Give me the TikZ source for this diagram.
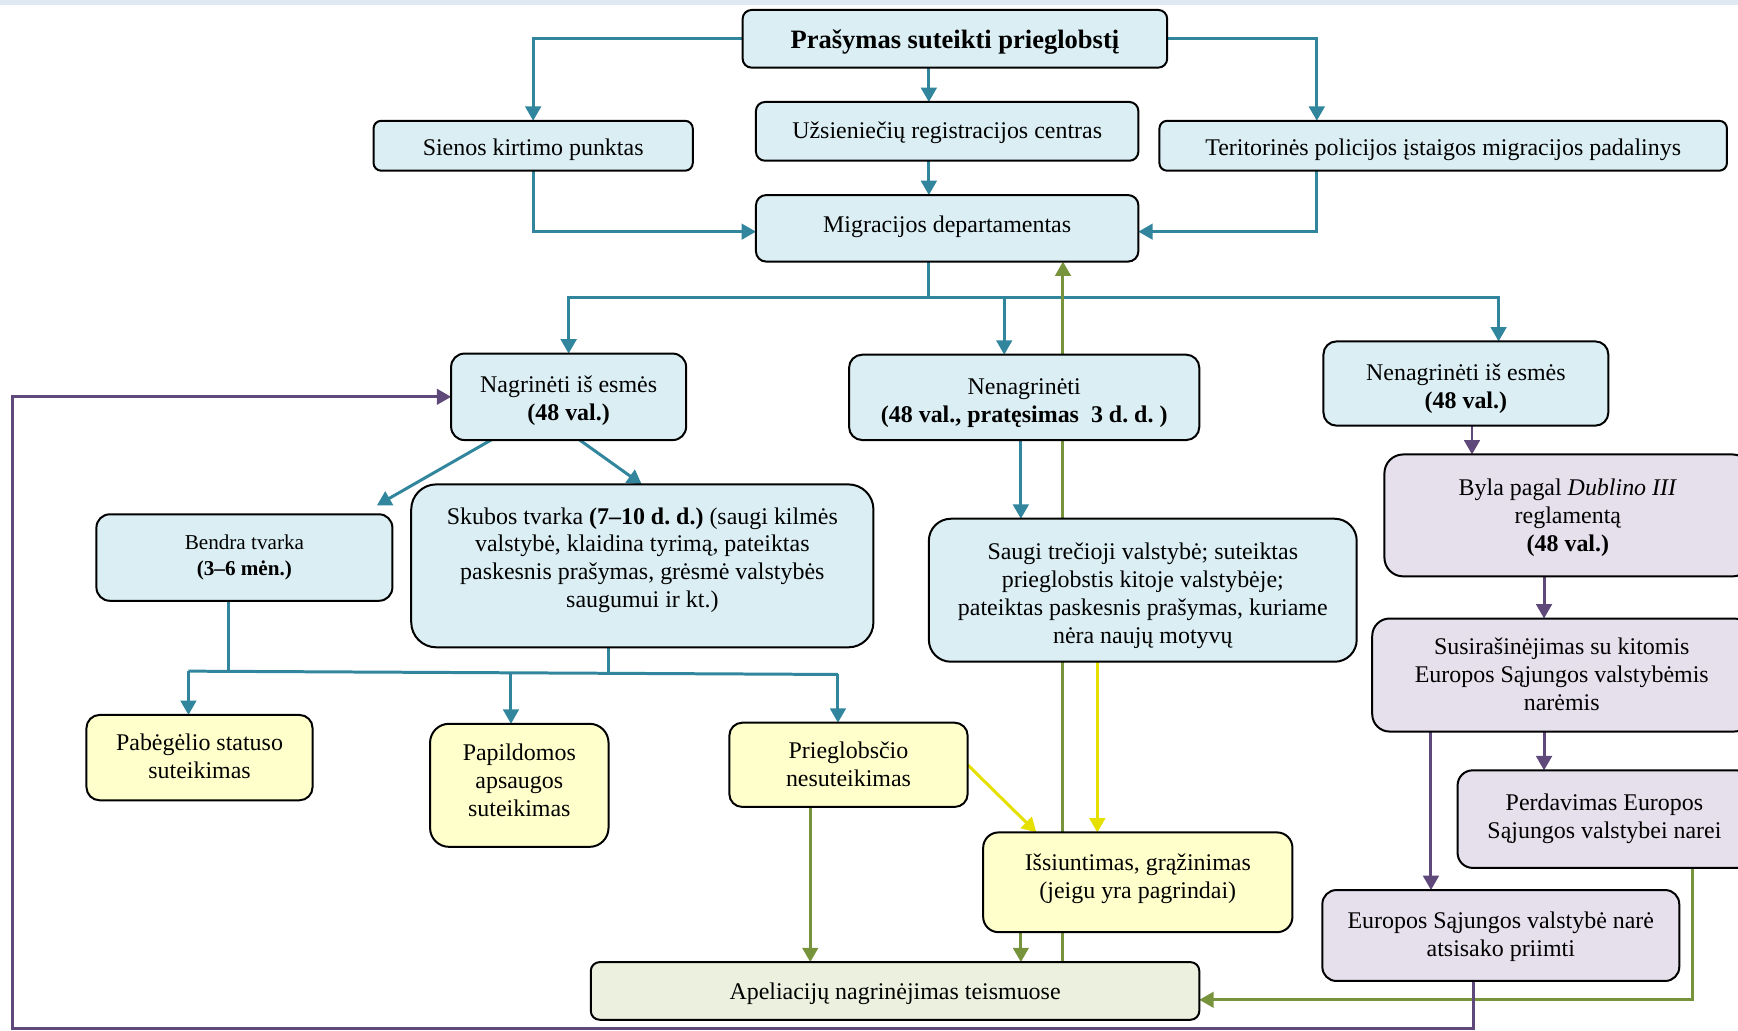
\documentclass[tikz,border=0pt]{standalone}
\usepackage{fontspec}
\setmainfont{Liberation Serif}
\usetikzlibrary{arrows.meta,calc,backgrounds}
\definecolor{boxblue}{HTML}{DAEEF3}
\definecolor{boxyel}{HTML}{FFFFCC}
\definecolor{boxlav}{HTML}{E5E0EC}
\definecolor{boxgrn}{HTML}{EBF1DE}
\definecolor{lnblue}{HTML}{31859C}
\definecolor{lngrn}{HTML}{77933C}
\definecolor{lnyel}{HTML}{E5E000}
\definecolor{lnpur}{HTML}{5F497A}
\definecolor{stripcol}{HTML}{DEE9F4}
\frenchspacing
% name, x1, y1, x2, y2, style, text shift (px, down), text
\newcommand\bx[8]{%
  \pgfmathsetmacro\rr{min(#4-#2,#5-#3)*0.5556/6.5}%
  \pgfmathsetmacro\bw{(#4-#2)*0.5556}%
  \pgfmathsetmacro\bh{(#5-#3)*0.5556}%
  \pgfmathsetmacro\cx{(#2+#4)/2}%
  \pgfmathsetmacro\cy{(#3+#5)/2}%
  \pgfmathsetmacro\dy{-(#7)*0.5556}%
  \node[#6,rounded corners=\rr pt,minimum width=\bw pt,minimum height=\bh pt] (#1) at (\cx,\cy)
    {\raisebox{\dy pt}[\height][\depth]{\begin{tabular}{@{}c@{}}#8\end{tabular}}};}
\begin{document}
\begin{tikzpicture}[x=0.5556pt,y=-0.5556pt,
  box/.style={draw=black,line width=1pt,inner sep=0pt,outer sep=0pt,font=\fontsize{12}{14}\selectfont},
  bl/.style={box,fill=boxblue},
  ye/.style={box,fill=boxyel},
  la/.style={box,fill=boxlav},
  gr/.style={box,fill=boxgrn},
  smalltxt/.style={font=\fontsize{10.6}{12.8}\selectfont},
  titletxt/.style={font=\fontsize{13.3}{15.5}\selectfont\bfseries},
  conn/.style={line width=1.5pt},
  arr/.style={conn,-{Triangle[width=7.8pt,length=7.2pt]}}]
\useasboundingbox (0,0) rectangle (1568,930);

% boxes
\bx{pras}{670}{9}{1053}{61}{bl,titletxt}{3}{Prašymas suteikti prieglobstį}
\bx{sien}{337}{109}{625}{154}{bl}{4}{Sienos kirtimo punktas}
\bx{uzs}{682}{92}{1027}{145}{bl}{1}{Užsieniečių registracijos centras}
\bx{terit}{1046}{109}{1558}{154}{bl}{4}{Teritorinės policijos įstaigos migracijos padalinys}
\bx{migr}{682}{176}{1027}{236}{bl}{-1}{Migracijos departamentas}
\bx{nagr}{407}{319}{619}{397}{bl}{4}{Nagrinėti iš esmės\\\textbf{(48 val.)}}
\bx{nenagr}{766}{320}{1082}{397}{bl}{5}{Nenagrinėti\\\textbf{(48 val., pratęsimas\ \ 3 d. d. )}}
\bx{nenesm}{1194}{308}{1451}{384}{bl}{5}{Nenagrinėti iš esmės\\\textbf{(48 val.)}}
\bx{byla}{1249}{410}{1580}{520}{la}{2}{Byla pagal \textit{Dublino III}\\reglamentą\\\textbf{(48 val.)}}
\bx{bendra}{87}{464}{354}{542}{bl,smalltxt}{0}{Bendra tvarka\\\textbf{(3–6 mėn.)}}
\bx{skub}{371}{437}{788}{584}{bl}{-5}{Skubos tvarka \textbf{(7–10 d. d.)} (saugi kilmės\\valstybė, klaidina tyrimą, pateiktas\\paskesnis prašymas, grėsmė valstybės\\saugumui ir kt.)}
\bx{saugi}{838}{468}{1224}{597}{bl}{5}{Saugi trečioji valstybė; suteiktas\\prieglobstis kitoje valstybėje;\\pateiktas paskesnis prašymas, kuriame\\nėra naujų motyvų}
\bx{susi}{1238}{558}{1580}{660}{la}{2}{Susirašinėjimas su kitomis\\Europos Sąjungos valstybėmis\\narėmis}
\bx{pab}{78}{645}{282}{722}{ye}{1}{Pabėgėlio statuso\\suteikimas}
\bx{pap}{388}{653}{549}{764}{ye}{-2}{Papildomos\\apsaugos\\suteikimas}
\bx{prn}{658}{652}{873}{728}{ye}{2}{Prieglobsčio\\nesuteikimas}
\bx{perd}{1315}{695}{1580}{783}{la}{0}{Perdavimas Europos\\Sąjungos valstybei narei}
\bx{issi}{887}{751}{1166}{841}{ye}{-3}{Išsiuntimas, grąžinimas\\(jeigu yra pagrindai)}
\bx{eur}{1193}{803}{1515}{885}{la}{1}{Europos Sąjungos valstybė narė\\atsisako priimti}
\bx{apel}{533}{868}{1082}{920}{gr}{3}{Apeliacijų nagrinėjimas teismuose}

% helper coordinates
\coordinate (xa) at (838,0);
\coordinate (xt) at (1188,0);
\coordinate (yh) at (0,268);
\coordinate (xb) at (906,0);
\coordinate (xn) at (1352,0);
\coordinate (xl) at (170,605.5);
\coordinate (xr) at (756,608.5);
\coordinate (xp) at (461,607);
\coordinate (xs) at (921,0);
\coordinate (xy) at (990,0);
\coordinate (xg1) at (731,0);
\coordinate (xg2) at (959,0);
\coordinate (xg3) at (1527,0);
\coordinate (xq1) at (1328,0);
\coordinate (xq2) at (1393,0);
\coordinate (xq3) at (1291,0);
\coordinate (xq4) at (1329,928);
\coordinate (xq5) at (11,928);

\begin{scope}[on background layer]
\fill[stripcol] (0,0) rectangle (1568,4.5);
% blue
\draw[arr,lnblue] (pras.west) -| (sien.north);
\draw[arr,lnblue] (pras.east) -| (xt |- terit.north);
\draw[arr,lnblue] (xa |- pras.south) -- (xa |- uzs.north);
\draw[arr,lnblue] (xa |- uzs.south) -- (xa |- migr.north);
\draw[arr,lnblue] (sien.south) |- ($(migr.west)+(0,3)$);
\draw[arr,lnblue] (xt |- terit.south) |- ($(migr.east)+(0,3)$);
\draw[arr,lnblue] (xa |- migr.south) -- (xa |- yh) -| (nagr.north);
\draw[arr,lnblue] (xa |- yh) -| (xn |- nenesm.north);
\draw[arr,lnblue] (xb |- yh) -- (xb |- nenagr.north);
\draw[arr,lnblue] ($(nagr.south west)+(36,0)$) -- ($(bendra.north east)+(-14,-8)$);
\draw[arr,lnblue] ($(nagr.south west)+(116,0)$) -- ($(skub.north west)+(208,0)$);
\draw[conn,lnblue] ($(bendra.south west)+(119,0)$) -- ++(0,64.5);
\draw[conn,lnblue] ($(skub.south west)+(178,0)$) -- ++(0,23.5);
\draw[conn,lnblue] (xl) -- (xr);
\draw[arr,lnblue] (xl) -- (xl |- pab.north);
\draw[arr,lnblue] (xp) -- (xp |- pap.north);
\draw[arr,lnblue] (xr) -- (xr |- prn.north);
\draw[arr,lnblue] (xs |- nenagr.south) -- (xs |- saugi.north);
% yellow
\draw[arr,lnyel] (prn.east) -- ($(issi.north west)+(48,0)$);
\draw[arr,lnyel] (xy |- saugi.south) -- (xy |- issi.north);
% green
\draw[arr,lngrn] (xg1 |- prn.south) -- (xg1 |- apel.north);
\draw[arr,lngrn] (xs |- issi.south) -- (xs |- apel.north);
\draw[arr,lngrn] (xg2 |- apel.north) -- (xg2 |- migr.south);
\draw[arr,lngrn] (xg3 |- perd.south) |- ($(apel.east)+(0,8)$);
% purple
\draw[arr,lnpur] (xq1 |- nenesm.south) -- (xq1 |- byla.north);
\draw[arr,lnpur] (xq2 |- byla.south) -- (xq2 |- susi.north);
\draw[arr,lnpur] (xq2 |- susi.south) -- (xq2 |- perd.north);
\draw[arr,lnpur] (xq3 |- susi.south) -- (xq3 |- eur.north);
\draw[arr,lnpur] (xq4 |- eur.south) -- (xq4) -- (xq5) |- (nagr.west);
\end{scope}
\end{tikzpicture}
\end{document}
